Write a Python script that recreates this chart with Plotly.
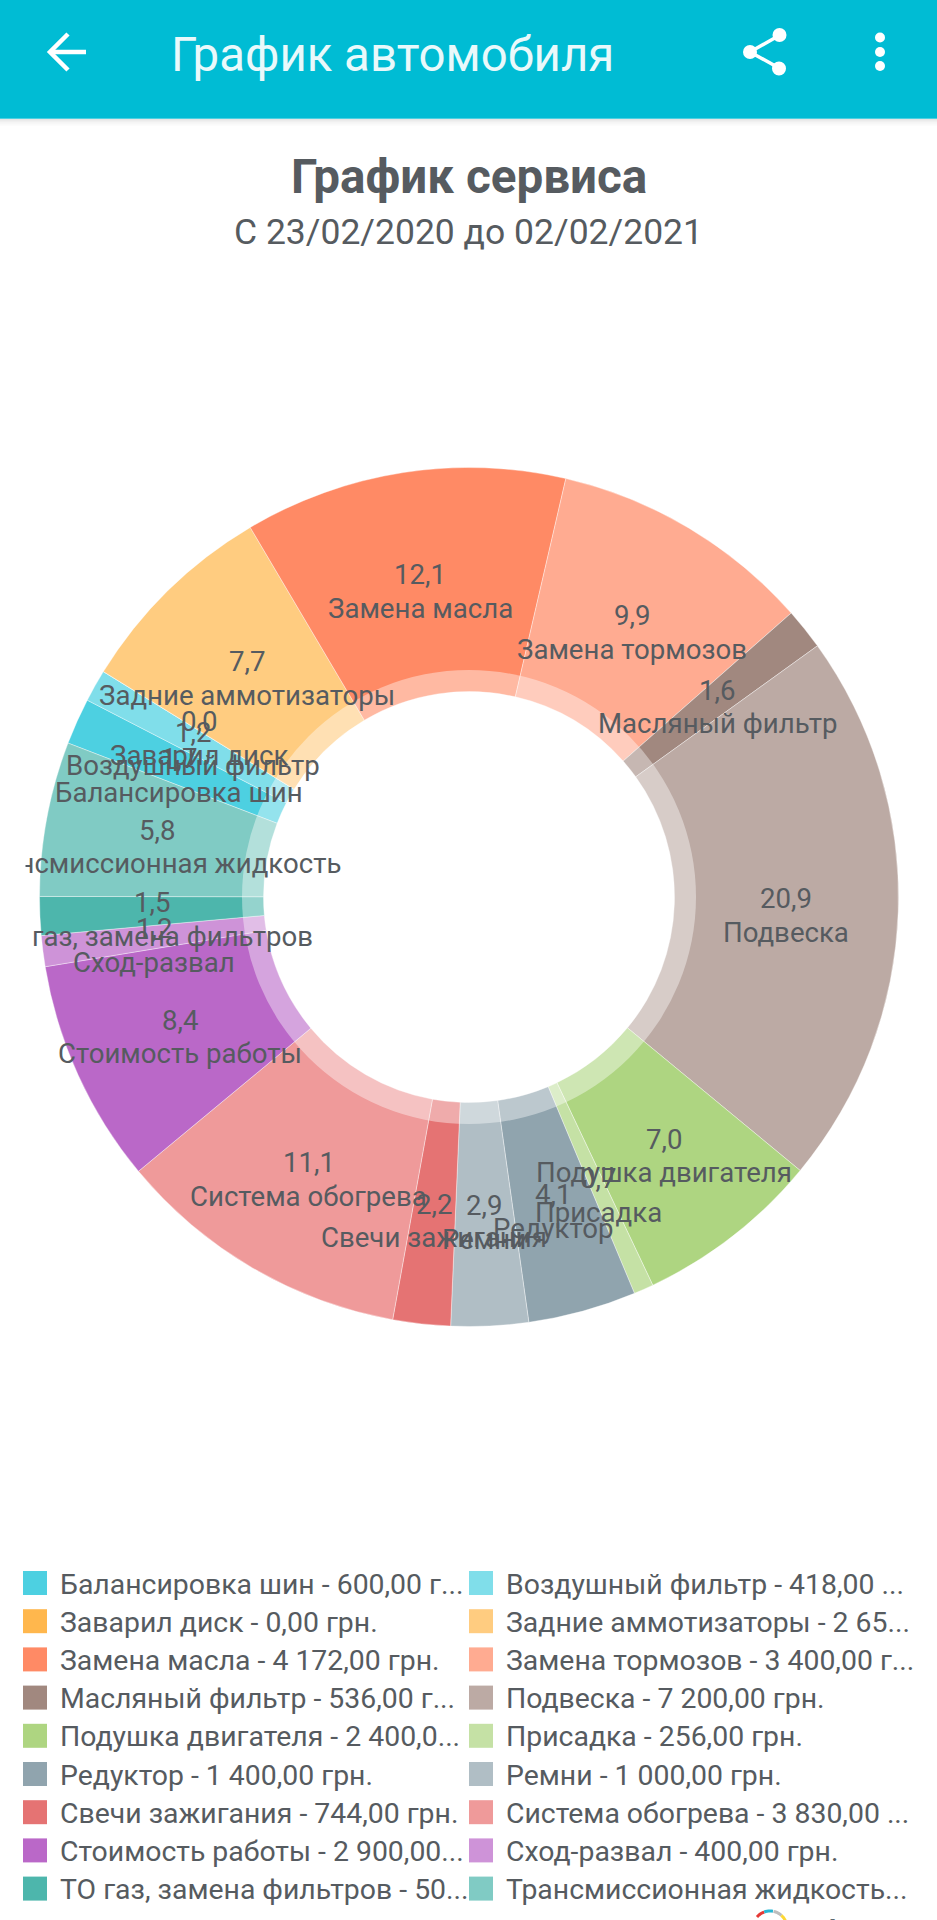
import math
import plotly.graph_objects as go

W, H = 937, 1920
categories = ["Балансировка шин", "Воздушный фильтр", "Заварил диск", "Задние аммотизаторы",
              "Замена масла", "Замена тормозов", "Масляный фильтр", "Подвеска",
              "Подушка двигателя", "Присадка", "Редуктор", "Ремни",
              "Свечи зажигания", "Система обогрева", "Стоимость работы", "Сход-развал",
              "ТО газ, замена фильтров", "Трансмиссионная жидкость"]
values = [600, 418, 0, 2650, 4172, 3400, 536, 7200, 2400, 256, 1400, 1000, 744, 3830, 2900, 400, 500, 2000]
colors = ["#4DD0E1", "#80DEEA", "#FFB74D", "#FFCC80", "#FF8A65", "#FFAB91", "#A1887F", "#BCAAA4",
          "#AED581", "#C5E1A5", "#90A4AE", "#B0BEC5", "#E57373", "#EF9A9A", "#BA68C8", "#CE93D8",
          "#4DB6AC", "#80CBC4"]
legend_texts = ["Балансировка шин - 600,00 г...", "Воздушный фильтр - 418,00 ...",
                "Заварил диск - 0,00 грн.", "Задние аммотизаторы - 2 65...",
                "Замена масла - 4 172,00 грн.", "Замена тормозов - 3 400,00 г...",
                "Масляный фильтр - 536,00 г...", "Подвеска - 7 200,00 грн.",
                "Подушка двигателя - 2 400,0...", "Присадка - 256,00 грн.",
                "Редуктор - 1 400,00 грн.", "Ремни - 1 000,00 грн.",
                "Свечи зажигания - 744,00 грн.", "Система обогрева - 3 830,00 ...",
                "Стоимость работы - 2 900,00...", "Сход-развал - 400,00 грн.",
                "ТО газ, замена фильтров - 50...", "Трансмиссионная жидкость..."]

CX, CY, R, R_HOLE, R_RING = 469, 897, 429.5, 205.5, 227
ROT = 291
TXT = "#565b60"
FONT = "Roboto"

def px(x): return x / W
def py(y): return 1 - y / H

fig = go.Figure(go.Pie(
    labels=categories, values=values, sort=False, direction="clockwise", rotation=ROT,
    hole=R_HOLE / R, textinfo="none", hoverinfo="skip", showlegend=False,
    marker=dict(colors=colors, line=dict(color="rgba(255,255,255,0.55)", width=0.7)),
    domain=dict(x=[px(CX - R), px(CX + R)], y=[py(CY + R), py(CY - R)]),
))

shapes, ann = [], []

def text(x, y, s, size, color=TXT, anchor="center", bold=False):
    ann.append(dict(x=px(x), y=py(y), xref="paper", yref="paper", text=f"<b>{s}</b>" if bold else s,
                    showarrow=False, xanchor=anchor, yanchor="middle",
                    font=dict(family=FONT, size=size, color=color), borderpad=0, borderwidth=0))

def rect(x0, y0, x1, y1, color, opacity=1.0):
    shapes.append(dict(type="rect", xref="paper", yref="paper", x0=px(x0), x1=px(x1), y0=py(y0), y1=py(y1),
                       fillcolor=color, opacity=opacity, line=dict(width=0), layer="above"))

def circle(x, y, r, color, opacity=1.0):
    shapes.append(dict(type="circle", xref="paper", yref="paper", x0=px(x - r), x1=px(x + r),
                       y0=py(y + r), y1=py(y - r), fillcolor=color, opacity=opacity,
                       line=dict(width=0), layer="above"))

def polyline(pts, color, width):
    d = "M" + " L".join(f"{px(a):.5f},{py(b):.5f}" for a, b in pts)
    shapes.append(dict(type="path", xref="paper", yref="paper", path=d, fillcolor="rgba(0,0,0,0)",
                       line=dict(color=color, width=width), layer="above"))

# translucent ring around the hole
circle(CX, CY, R_RING, "white", 0.4)

# slice labels, derived from the data
total = sum(values)
cum = 0.0
LABEL_R = (R + R_HOLE) / 2
VALUE_DY = -8.5
LABEL_DY = 25
for name, v in zip(categories, values):
    pct = 100 * v / total
    ang = math.radians(ROT + (cum + v / 2) / total * 360)
    x = CX + LABEL_R * math.sin(ang)
    y = CY - LABEL_R * math.cos(ang)
    text(x, y + VALUE_DY, f"{pct:.1f}".replace(".", ","), 27.6)
    text(x, y + LABEL_DY, name, 27.6)
    cum += v

# left clipping of the chart view
ann.append(dict(x=px(-20), y=py(900), xref="paper", yref="paper", text="\u00a0", showarrow=False,
                xanchor="left", yanchor="middle", width=42, height=120, bgcolor="white",
                font=dict(size=10, color="white")))

# app bar
rect(0, 0, W, 118, "#00BCD4")
rect(0, 118, W, 119, "#4CD0E1")
for i, op in enumerate([0.10, 0.08, 0.06, 0.04, 0.03, 0.02, 0.01]):
    rect(0, 119 + i, W, 120 + i, "#000000", op)
text(392, 55, "График автомобиля", 47.4, "#E9F9FB")
polyline([(86, 52), (50, 52)], "white", 4.5)
polyline([(68, 34), (50, 52), (68, 70)], "white", 4.5)
polyline([(780, 35), (750, 52), (779, 68)], "white", 3.5)
circle(779.5, 35, 7, "white"); circle(750, 52, 7, "white"); circle(779, 68.5, 7, "white")
circle(880, 37.5, 5, "white"); circle(880, 52, 5, "white"); circle(880, 66, 5, "white")

# headings
text(468.5, 177, "График сервиса", 47.6, bold=True)
text(468.5, 232, "С 23/02/2020 до 02/02/2021", 35.5)

# legend
for i, (t, c) in enumerate(zip(legend_texts, colors)):
    col, row = i % 2, i // 2
    x = 23 + col * 446
    y = 1571 + row * 38.2
    rect(x, y, x + 24, y + 24, c)
    text(x + 36.5, y + 13, t, 28.4, anchor="left")

# logo at the bottom edge
def arc(a0, a1, color):
    pts = [(770 + 17 * math.sin(math.radians(a)), 1928 - 17 * math.cos(math.radians(a)))
           for a in range(a0, a1 + 1, 5)]
    polyline(pts, color, 3)
arc(-50, -20, "#E53935"); arc(-20, 12, "#26B6D4"); arc(12, 42, "#BDBDBD"); arc(42, 70, "#FDD835")
text(812, 1938, "dri", 46, "#37474F", anchor="left")

fig.update_layout(width=W, height=H, margin=dict(l=0, r=0, t=0, b=0), paper_bgcolor="white",
                  plot_bgcolor="white", shapes=shapes, annotations=ann, showlegend=False)
fig.write_html("out.html", config=dict(displayModeBar=False),
               post_script="document.body.style.margin='0';document.body.style.overflow='hidden';")
